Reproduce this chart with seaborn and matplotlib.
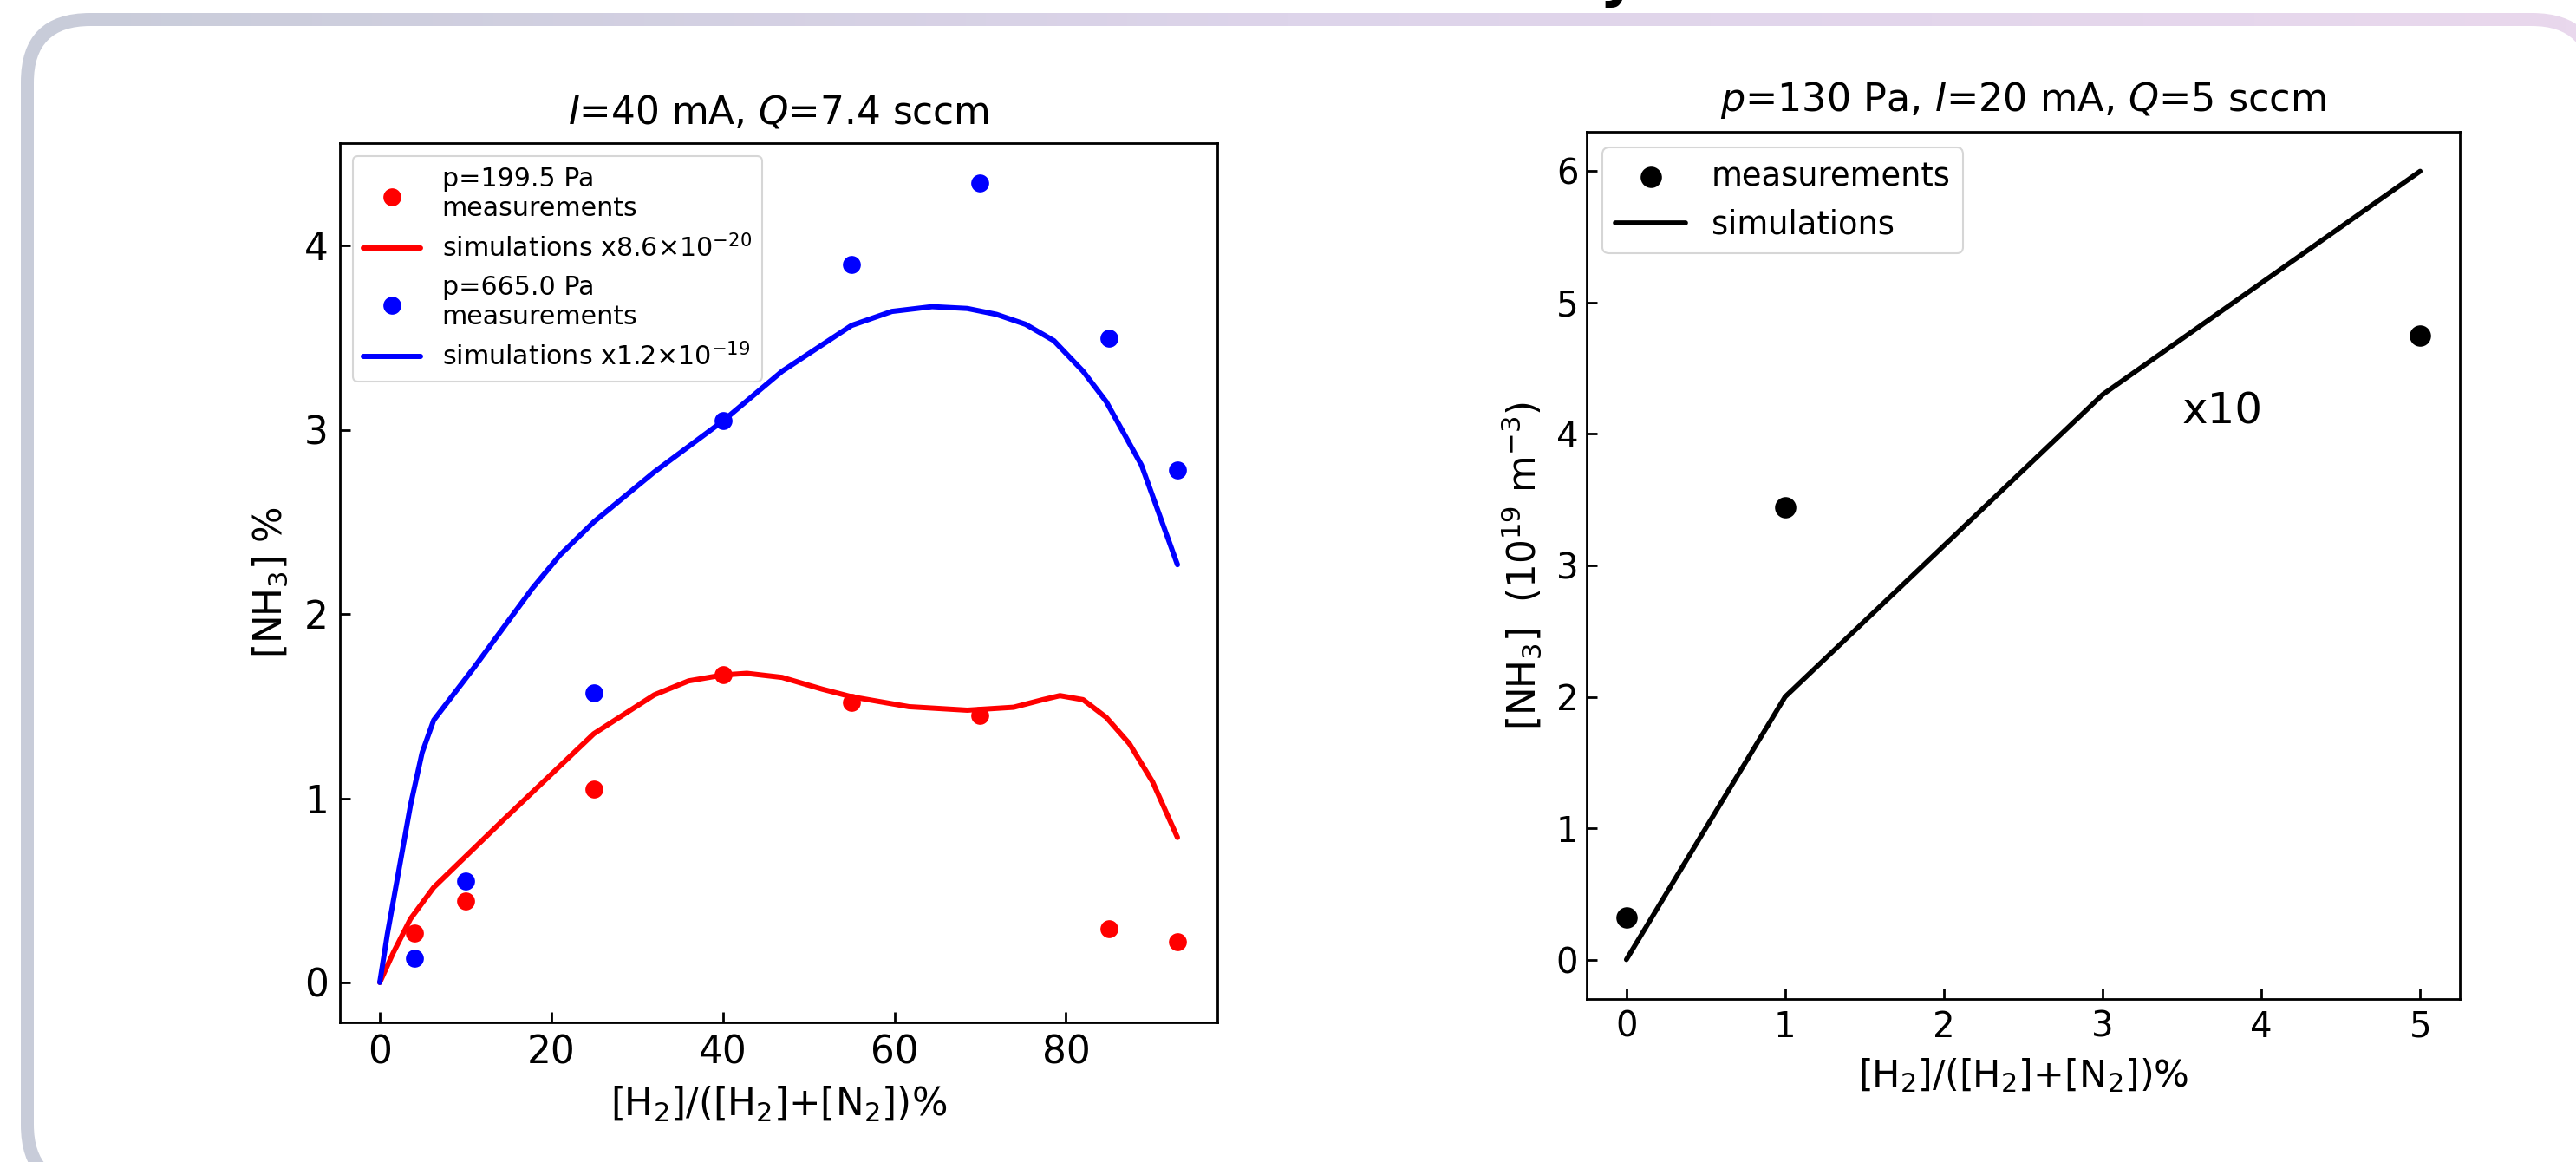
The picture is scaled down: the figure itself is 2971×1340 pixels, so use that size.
import numpy as np
import matplotlib
matplotlib.use("Agg")
import matplotlib.pyplot as plt
from matplotlib.colors import LinearSegmentedColormap
from matplotlib.patches import FancyBboxPatch
import seaborn as sns

# left panel: I=40 mA, Q=7.4 sccm
h2_frac = [4, 10, 25, 40, 55, 70, 85, 93]
meas_low_p = [0.27, 0.44, 1.05, 1.67, 1.52, 1.45, 0.29, 0.22]
meas_high_p = [0.13, 0.55, 1.57, 3.05, 3.90, 4.34, 3.50, 2.78]

sim_low_x = [0, 1.56, 3.58, 6.29, 14.4, 24.95, 32.0, 36.0, 40.0, 42.8, 46.9, 51.6, 55.0,
             61.7, 68.5, 73.9, 77.3, 79.3, 82.0, 84.7, 87.4, 90.1, 93.0]
sim_low_y = [0, 0.160, 0.345, 0.516, 0.882, 1.350, 1.561, 1.637, 1.669, 1.678, 1.656, 1.592, 1.551,
             1.497, 1.478, 1.494, 1.535, 1.557, 1.535, 1.439, 1.296, 1.089, 0.787]
sim_high_x = [0, 0.88, 2.23, 3.58, 4.94, 6.29, 11.0, 17.8, 21.0, 24.95, 32.0, 40.0, 46.9, 55.0,
              59.7, 64.4, 68.5, 71.9, 75.3, 78.6, 82.0, 84.7, 88.8, 93.0]
sim_high_y = [0, 0.261, 0.611, 0.962, 1.248, 1.424, 1.710, 2.140, 2.320, 2.500, 2.771, 3.048, 3.318, 3.567,
              3.643, 3.669, 3.659, 3.627, 3.573, 3.484, 3.318, 3.153, 2.809, 2.268]

# right panel: p=130 Pa, I=20 mA, Q=5 sccm
h2_frac_r = [0, 1, 5]
meas_r = [0.32, 3.44, 4.75]
sim_x_r = [0, 1, 3, 5]
sim_y_r = [0, 2.0, 4.3, 6.0]

W, H = 2971, 1340

sns.set_style("ticks")
plt.rcParams.update({
    "font.family": "DejaVu Sans",
    "mathtext.fontset": "dejavusans",
    "axes.edgecolor": "black",
    "axes.linewidth": 2,
    "xtick.color": "black",
    "ytick.color": "black",
    "xtick.direction": "in",
    "ytick.direction": "in",
    "text.color": "black",
    "axes.labelcolor": "black",
})

fig = plt.figure(figsize=(W / 100, H / 100), dpi=100)

# slide frame with a soft horizontal gradient
bg = fig.add_axes([0, 0, 1, 1], zorder=-5)
bg.set_xlim(0, W)
bg.set_ylim(H, 0)
bg.axis("off")
cmap = LinearSegmentedColormap.from_list("frame", ["#c8ccd9", "#ddd4ea", "#e9d8ed"])
im = bg.imshow(np.linspace(0, 1, 256).reshape(1, -1), extent=[0, W, H, 0],
               aspect="auto", cmap=cmap)
outer = FancyBboxPatch((24, 15), 2976, 1362, boxstyle="round,pad=0,rounding_size=80",
                       fc="none", ec="none", transform=bg.transData)
bg.add_patch(outer)
im.set_clip_path(outer)
inner = FancyBboxPatch((39, 30), 2946, 1332, boxstyle="round,pad=0,rounding_size=65",
                       fc="white", ec="none", transform=bg.transData)
bg.add_patch(inner)
# descender of the cut-off slide heading
fig.text(1844 / W, (H + 6) / H, "y", fontsize=48, fontweight="bold", va="baseline")

# ---- left panel
ax1 = fig.add_axes([392 / W, 1 - 1179 / H, (1404 - 392) / W, (1179 - 165) / H])
sns.scatterplot(x=h2_frac, y=meas_low_p, color="red", s=222, linewidth=0,
                label="p=199.5 Pa\nmeasurements", ax=ax1, zorder=3)
sns.lineplot(x=sim_low_x, y=sim_low_y, color="red", lw=4.3,
             label=r"simulations x8.6$\times10^{-20}$", ax=ax1)
sns.scatterplot(x=h2_frac, y=meas_high_p, color="blue", s=222, linewidth=0,
                label="p=665.0 Pa\nmeasurements", ax=ax1, zorder=3)
sns.lineplot(x=sim_high_x, y=sim_high_y, color="blue", lw=4.3,
             label=r"simulations x1.2$\times10^{-19}$", ax=ax1)
ax1.set_title(r"$I$=40 mA, $Q$=7.4 sccm", fontsize=31.5, pad=16.5)
ax1.set_xlabel(r"[H$_2$]/([H$_2$]+[N$_2$])%", fontsize=31.5, labelpad=11)
ax1.set_ylabel(r"[NH$_3$] %", fontsize=31.5, labelpad=12)
ax1.tick_params(labelsize=31.5, length=8.5, width=2, pad=9.5)
leg1 = ax1.legend(loc="upper left", fontsize=21.7, handlelength=2.2)
leg1.get_frame().set_linewidth(1.5)

# ---- right panel
ax2 = fig.add_axes([1830 / W, 1 - 1152 / H, (2837 - 1830) / W, (1152 - 152) / H])
sns.scatterplot(x=h2_frac_r, y=meas_r, color="black", s=313, linewidth=0,
                label="measurements", ax=ax2, zorder=3)
sns.lineplot(x=sim_x_r, y=sim_y_r, color="black", lw=4.1, label="simulations", ax=ax2)
ax2.text(3.5, 4.08, "x10", fontsize=36)
ax2.set_title(r"$p$=130 Pa, $I$=20 mA, $Q$=5 sccm", fontsize=32, pad=17)
ax2.set_xlabel(r"[H$_2$]/([H$_2$]+[N$_2$])%", fontsize=31, labelpad=10)
ax2.set_ylabel(r"[NH$_3$]  (10$^{19}$ m$^{-3}$)", fontsize=31.5, labelpad=10)
ax2.tick_params(labelsize=29, length=8.5, width=2)
ax2.tick_params(axis="x", pad=9)
ax2.tick_params(axis="y", pad=7)
leg2 = ax2.legend(loc="upper left", fontsize=26.5, handlelength=2.2)
leg2.get_frame().set_linewidth(1.5)

fig.savefig("out.png", dpi=100)
